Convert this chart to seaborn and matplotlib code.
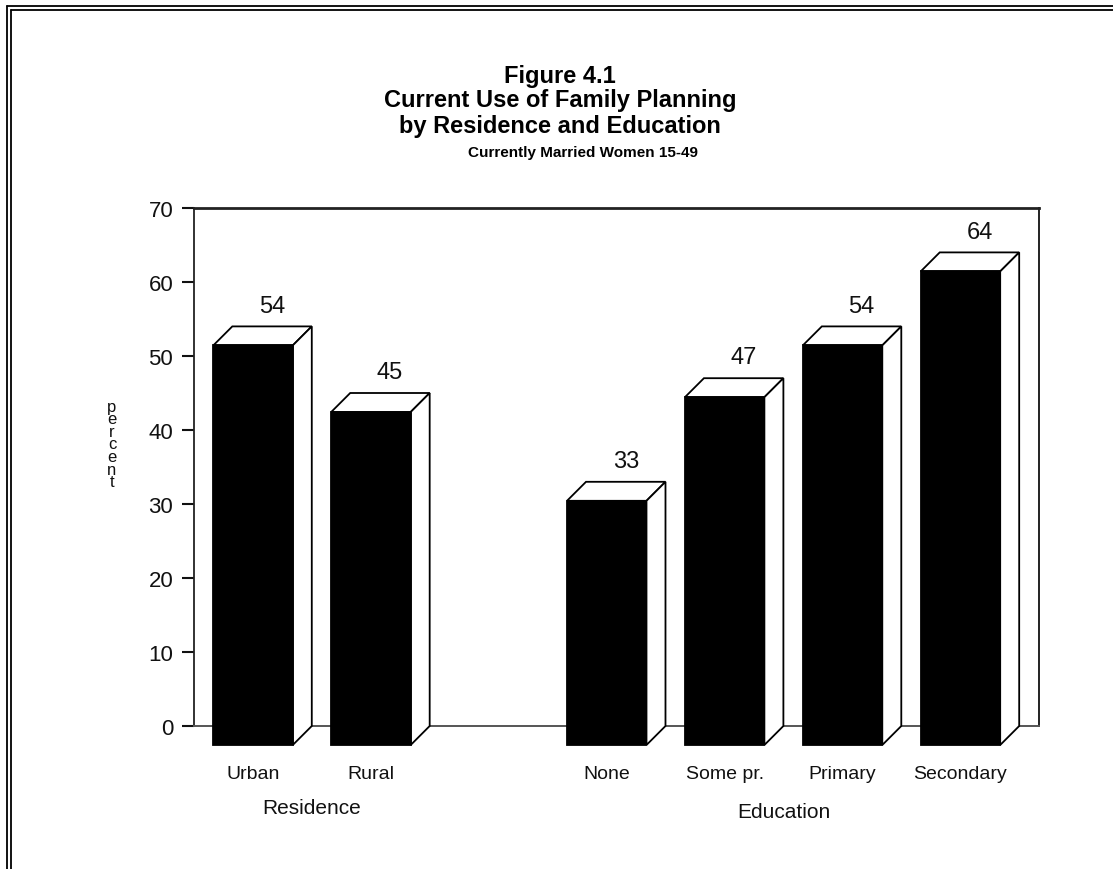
import matplotlib
matplotlib.use("Agg")
import matplotlib.pyplot as plt
import matplotlib.transforms as mtransforms
from matplotlib.patches import Polygon
from matplotlib.lines import Line2D
import pandas as pd
import seaborn as sns

# Current use of family planning, currently married women 15-49 (percent)
categories = ["Urban", "Rural", "None", "Some pr.", "Primary", "Secondary"]
groups = ["Residence", "Residence", "Education", "Education", "Education", "Education"]
values = [54, 45, 33, 47, 54, 64]
y_ticks = [0, 10, 20, 30, 40, 50, 60, 70]
group_names = ["Residence", "Education"]

sns.set_theme(style="white")
plt.rcParams["font.family"] = ["Liberation Sans", "DejaVu Sans"]
plt.rcParams["text.color"] = "black"

df = pd.DataFrame({"category": categories, "group": groups, "value": values})
# a blank slot separates the two groups
order = categories[:2] + [""] + categories[2:]

W, H = 1113, 870
fig = plt.figure(figsize=(W / 100, H / 100), dpi=100)
ax = fig.add_axes([194 / W, 143 / H, 845 / W, 518 / H])

sns.barplot(data=df, x="category", y="value", order=order, color="black",
            saturation=1, width=0.674, errorbar=None, ax=ax)

ax.set_ylim(0, 70)
ax.set_xlim(-0.662, 6.505)
ax.set_yticks(y_ticks)
ax.set_xlabel("")
ax.set_ylabel("")

# depth of the pseudo-3D bars, in pixels
depth_px = 19
p0 = ax.transData.transform((0, 0))
p1 = ax.transData.transform((1, 1))
ddx = depth_px / (p1[0] - p0[0])
ddy = depth_px / (p1[1] - p0[1])

bars = [p for p in ax.patches]
lw = 1.3
for bar, v in zip(bars, values):
    x0 = bar.get_x()
    w = bar.get_width()
    h = bar.get_height()
    # front face: shifted down-left from the back outline
    bar.set_x(x0 - ddx)
    bar.set_y(-ddy)
    bar.set_facecolor("black")
    bar.set_edgecolor("black")
    bar.set_linewidth(lw)
    bar.set_clip_on(False)
    bar.set_zorder(4)
    top = Polygon([(x0 - ddx, h - ddy), (x0, h), (x0 + w, h), (x0 + w - ddx, h - ddy)],
                  closed=True, facecolor="white", edgecolor="black", lw=lw,
                  zorder=3, clip_on=False, joinstyle="miter")
    side = Polygon([(x0 + w - ddx, h - ddy), (x0 + w, h), (x0 + w, 0), (x0 + w - ddx, -ddy)],
                   closed=True, facecolor="white", edgecolor="black", lw=lw,
                   zorder=3, clip_on=False, joinstyle="miter")
    ax.add_patch(top)
    ax.add_patch(side)
    ax.annotate(f"{v}", (x0 + w / 2, h), xytext=(0, 7), textcoords="offset points",
                ha="center", va="bottom", fontsize=17, color="#111111")

# frame of the plotting area
for name, sp in ax.spines.items():
    sp.set_visible(True)
    sp.set_color("#222222")
    sp.set_zorder(1)
ax.spines["top"].set_linewidth(2.0)
ax.spines["left"].set_linewidth(1.3)
ax.spines["right"].set_linewidth(1.4)
ax.spines["bottom"].set_linewidth(1.4)
ax.spines["bottom"].set_color("#555555")

ax.tick_params(axis="y", direction="out", length=9, width=1.5, pad=6,
               labelsize=16, colors="#111111", left=True)
ax.tick_params(axis="x", length=0, pad=28, labelsize=14, colors="#111111")

shift = mtransforms.ScaledTranslation(-depth_px / 100, 0, fig.dpi_scale_trans)
for lab in ax.get_xticklabels():
    lab.set_transform(lab.get_transform() + shift)

# group captions under the category labels
pos = {c: i for i, c in enumerate(order)}
blend = mtransforms.blended_transform_factory(ax.transData, ax.transAxes)
for g, yoff in zip(group_names, [-0.157, -0.166]):
    xs = [pos[c] for c, gg in zip(categories, groups) if gg == g]
    xc = (min(xs) + max(xs)) / 2 - ddx
    ax.text(xc, yoff, g, transform=blend, ha="center", va="center",
            fontsize=15, color="#111111")

# stacked vertical axis title
fig.text(112 / W, 1 - 445 / H, "\n".join("percent"), ha="center", va="center",
         fontsize=12, linespacing=0.8, color="#111111")

# titles
fig.text(560 / W, 1 - 76 / H, "Figure 4.1", ha="center", va="center",
         fontsize=17, fontweight="bold", color="black")
fig.text(560 / W, 1 - 101 / H, "Current Use of Family Planning", ha="center",
         va="center", fontsize=17, fontweight="bold", color="black")
fig.text(560 / W, 1 - 127 / H, "by Residence and Education", ha="center",
         va="center", fontsize=17, fontweight="bold", color="black")
fig.text(583 / W, 1 - 153 / H, "Currently Married Women 15-49", ha="center",
         va="center", fontsize=11, fontweight="bold", color="black")

# double page border along the top and left
for off in (7, 10.5):
    fig.add_artist(Line2D([off / W, off / W], [0, 1 - off / H], color="black",
                          lw=1.3, transform=fig.transFigure))
    fig.add_artist(Line2D([off / W, 1], [1 - off / H, 1 - off / H], color="black",
                          lw=1.3, transform=fig.transFigure))

fig.savefig("out.png", dpi=100, facecolor="white")
